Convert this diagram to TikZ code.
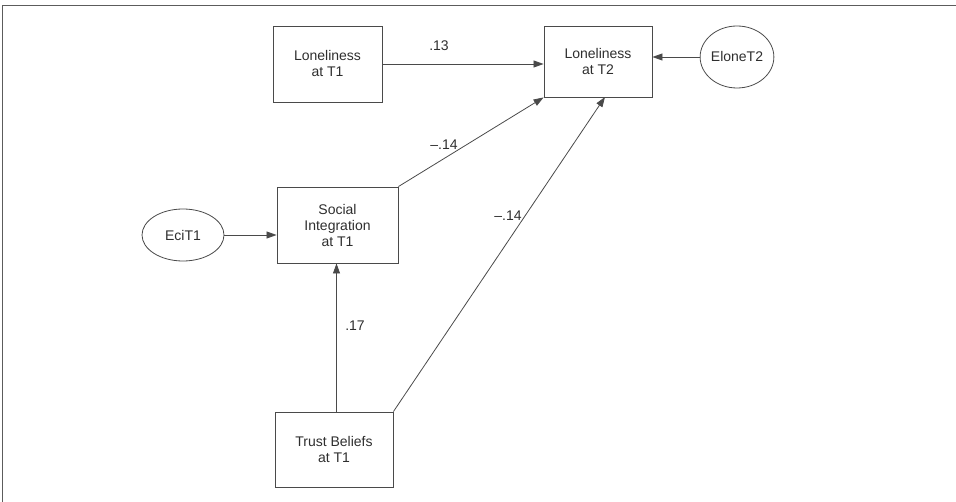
\documentclass[tikz,border=0pt]{standalone}
\usepackage{fontspec}
\setmainfont{Liberation Sans}
\usetikzlibrary{arrows.meta,shapes.geometric}
\definecolor{linegray}{HTML}{4A4A4A}
\definecolor{textgray}{HTML}{2E2E2E}
\tikzset{
  box/.style={draw=linegray, line width=0.9pt, rectangle, align=center, inner sep=0pt, text=textgray, font=\fontsize{14}{16}\selectfont},
  err/.style={draw=linegray, line width=0.8pt, ellipse, inner sep=0pt, text=textgray, font=\fontsize{14}{16}\selectfont},
  path/.style={draw=linegray, line width=0.8pt, -{Triangle[length=10pt,width=7pt]}},
  coef/.style={text=textgray, font=\fontsize{14}{16}\selectfont, inner sep=0pt}
}
\begin{document}
\begin{tikzpicture}[x=1pt,y=-1pt]
\useasboundingbox (0,0) rectangle (956,502);
\draw[draw=linegray!90, line width=1.6pt] (2.5,502) -- (2.5,5.5) -- (956,5.5);
\node[box, minimum width=109pt, minimum height=76pt] (LT1) at (327.5,64) {Loneliness\\at T1};
\node[box, minimum width=108pt, minimum height=71pt] (LT2) at (598,61.5) {Loneliness\\at T2};
\node[err, minimum width=72pt, minimum height=62pt] (EL) at (737,57) {EloneT2};
\node[box, minimum width=121pt, minimum height=76pt] (SI) at (337.5,225) {Social\\Integration\\at T1};
\node[err, minimum width=82pt, minimum height=52pt] (EC) at (183,235) {EciT1};
\node[box, minimum width=118pt, minimum height=75pt] (TB) at (334,449.5) {Trust Beliefs\\at T1};
\coordinate (T2b) at (605,97);
\draw[path] (LT1.east) -- (LT2.west|-LT1.east);
\draw[path] (EL.west) -- (LT2.east|-EL.west);
\draw[path] (EC.east) -- (SI.west|-EC.east);
\draw[path] (TB.north-|336.5,0) -- (SI.south-|336.5,0);
\draw[path] (SI.north east) -- (LT2.south west);
\draw[path] (TB.north east) -- (T2b);
\node[coef] (c1) at (439,46) {.13};
\node[coef] (c2) at (444,145) {–.14};
\node[coef] (c3) at (508,216) {–.14};
\node[coef] (c4) at (355,326) {.17};
\end{tikzpicture}
\end{document}
